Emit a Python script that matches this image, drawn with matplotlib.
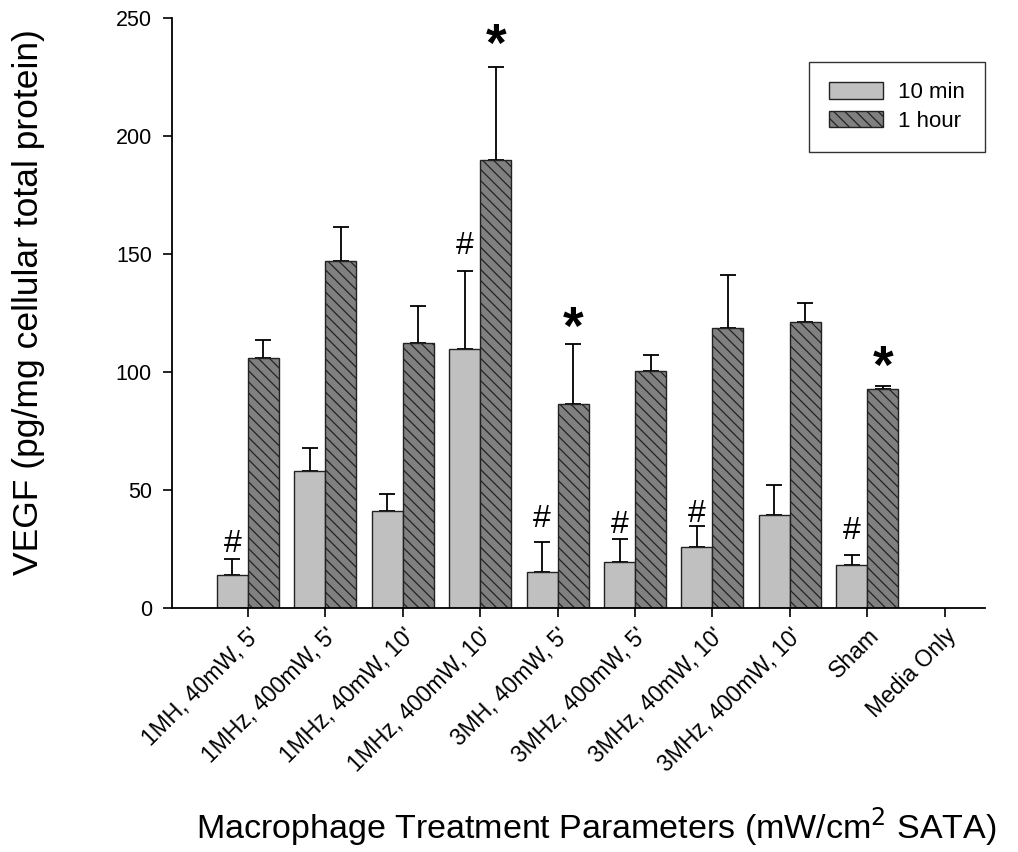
import matplotlib
matplotlib.use('Agg')
import matplotlib.pyplot as plt
import numpy as np

plt.rcParams['font.family'] = ['Liberation Sans', 'DejaVu Sans']
plt.rcParams['hatch.color'] = 'black'
plt.rcParams['hatch.linewidth'] = 0.9

# data
groups = ["1MH, 40mW, 5'", "1MHz, 400mW, 5'", "1MHz, 40mW, 10'", "1MHz, 400mW, 10'",
          "3MH, 40mW, 5'", "3MHz, 400mW, 5'", "3MHz, 40mW, 10'", "3MHz, 400mW, 10'",
          "Sham", "Media Only"]
min10 = [14.0, 58.2, 41.1, 109.6, 15.1, 19.4, 25.8, 39.5, 18.4, np.nan]
min10_err = [6.8, 9.7, 7.3, 33.3, 13.0, 9.8, 8.8, 12.5, 4.1, np.nan]
hour1 = [105.8, 147.0, 112.3, 189.8, 86.6, 100.6, 118.5, 121.0, 92.9, np.nan]
hour1_err = [7.6, 14.4, 15.8, 39.6, 25.4, 6.5, 22.6, 8.4, 1.2, np.nan]
# significance marks: group index and the height (y units) the mark sits at
hash_idx = [0, 3, 4, 5, 6, 8]                      # '#' over the 10 min bars
hash_y = [28.4, 154.7, 39.4, 36.6, 41.2, 34.3]
star_idx = [3, 4, 8]                               # '*' over the 1 hour bars
star_y = [242.8, 122.9, 106.5]

x = np.arange(len(groups))
w = 0.4

fig = plt.figure(figsize=(10.18, 8.52), dpi=100)
ax = fig.add_axes([172 / 1018, 244 / 852, 813 / 1018, 590 / 852])

m10 = np.array(min10); e10 = np.array(min10_err)
h1 = np.array(hour1); eh = np.array(hour1_err)

ax.bar(x - w / 2, m10, w, color='#c0c0c0', edgecolor='#222222', linewidth=1.0,
       label='10 min', zorder=2)
ax.bar(x + w / 2, h1, w, color='#808080', edgecolor='#222222', linewidth=1.0,
       hatch='\\\\\\', label='1 hour', zorder=2)
ax.errorbar(x - w / 2, m10, yerr=[np.zeros_like(e10), e10], fmt='none',
            ecolor='black', elinewidth=1.3, capsize=6, capthick=1.3, zorder=1)
ax.errorbar(x + w / 2, h1, yerr=[np.zeros_like(eh), eh], fmt='none',
            ecolor='black', elinewidth=1.3, capsize=6, capthick=1.3, zorder=1)

# marks are placed on their baseline, shifted so the glyph centre hits the y value
HASH_FS, STAR_FS = 23, 38
for i, yv in zip(hash_idx, hash_y):
    ax.annotate('#', (x[i] - w / 2, yv), xytext=(0, -0.36 * HASH_FS * 100 / 72),
                textcoords='offset pixels', ha='center', va='baseline', fontsize=HASH_FS)
for i, yv in zip(star_idx, star_y):
    ax.annotate('*', (x[i] + w / 2, yv), xytext=(0, -0.49 * STAR_FS * 100 / 72),
                textcoords='offset pixels', ha='center', va='baseline',
                fontsize=STAR_FS, fontweight='bold')

ax.set_xlim(-0.98, 9.52)
ax.set_ylim(0, 250)
ax.set_yticks([0, 50, 100, 150, 200, 250])
ax.set_xticks(x)
ax.set_xticklabels(groups, rotation=45, ha='right', rotation_mode='anchor')
ax.tick_params(axis='both', direction='out', length=6.5, width=1.2, labelsize=15.5)
ax.tick_params(axis='y', pad=8)
ax.tick_params(axis='x', pad=5, labelsize=16.5)
ax.spines['top'].set_visible(False)
ax.spines['right'].set_visible(False)
ax.spines['left'].set_linewidth(1.3)
ax.spines['bottom'].set_linewidth(1.3)

fig.text(29 / 1018, 1 - 302 / 852, 'VEGF (pg/mg cellular total protein)',
         fontsize=25.5, rotation=90, ha='center', va='center')
fig.text(596 / 1018, 14 / 852, 'Macrophage Treatment Parameters (mW/cm$^2$ SATA)',
         fontsize=24.5, ha='center', va='baseline')

leg = ax.legend(loc='upper right', bbox_to_anchor=(1.0, 0.925), fontsize=16,
                frameon=True, fancybox=False, edgecolor='black', borderpad=0.9,
                handlelength=2.4, handleheight=0.75, handletextpad=0.7,
                labelspacing=0.35, borderaxespad=0)
leg.get_frame().set_linewidth(1.0)

fig.savefig('out.png', dpi=100)
